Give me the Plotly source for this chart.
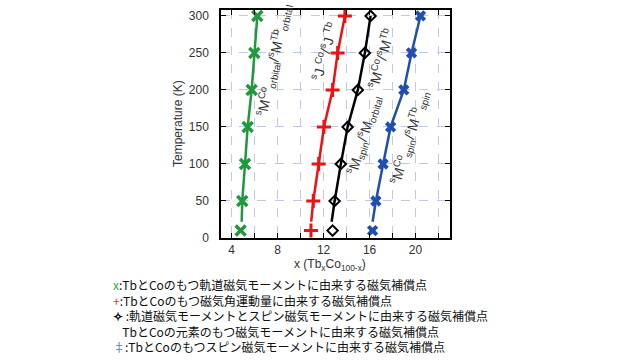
import plotly.graph_objects as go

temps = [10, 50, 100, 150, 200, 250, 300]
x_orbital = [4.78, 4.92, 5.16, 5.39, 5.74, 5.97, 6.23]
x_angular = [10.9, 11.1, 11.57, 12.03, 12.78, 13.22, 13.85]
x_element = [12.78, 12.96, 13.5, 14.09, 14.98, 15.59, 16.09]
x_spin = [16.26, 16.55, 17.18, 17.83, 18.98, 19.65, 20.43]

# fitted line ends (lower end of each drawn line)
line_low_T = 22
line_low_x = [4.87, 10.92, 12.7, 16.26]

x_ticks = [4, 8, 12, 16, 20]
y_ticks = [0, 50, 100, 150, 200, 250, 300]

legend_lines = [
    ("x", "#3aaa4a", ":TbとCoのもつ軌道磁気モーメントに由来する磁気補償点"),
    ("+", "#ff2a2a", ":TbとCoのもつ磁気角運動量に由来する磁気補償点"),
    ("<b>✧</b>", "#000000", " :軌道磁気モーメントとスピン磁気モーメントに由来する磁気補償点"),
    ("x:", "#ffffff", "TbとCoの元素のもつ磁気モーメントに由来する磁気補償点"),
    ("‡", "#3f8fe8", ":TbとCoのもつスピン磁気モーメントに由来する磁気補償点"),
]

series = [
    (x_orbital, "#1e9a3c", "x-thin-open", 10, 3.5),
    (x_angular, "#ee1111", "cross-thin-open", 10, 3),
    (x_element, "#000000", "diamond-open", 8, 2),
    (x_spin, "#1f4fb0", "x", 10, 0),
]

fig = go.Figure()
for i, (xs, col, sym, size, lw) in enumerate(series):
    fig.add_trace(go.Scatter(
        x=[line_low_x[i]] + xs[1:], y=[line_low_T] + temps[1:],
        mode="lines", line=dict(color=col, width=2.5), showlegend=False))
    fig.add_trace(go.Scatter(
        x=xs, y=temps, mode="markers",
        marker=dict(symbol=sym, size=size, color=col,
                    line=dict(color=col, width=lw)),
        showlegend=False))

ann_font = dict(family="Liberation Sans, Arial", size=14, color="#333333")
labels = [
    (7.68, 240, "<sup>s</sup>M<sup>Co</sup><sub>orbital</sub>/<sup>s</sup>M<sup>Tb</sup><sub>orbital</sub>", -78),
    (12.1, 252, "<sup>s</sup>J <sup>Co</sup>/<sup>s</sup>J <sup>Tb</sup>", -74),
    (16.98, 243, "<sup>s</sup>M<sup>Co</sup>/<sup>s</sup>M<sup>Tb</sup>", -74),
    (15.5, 139, "<sup>s</sup>M<sub>spin</sub>/<sup>s</sup>M<sub>orbital</sub>", -73),
    (19.5, 136, "<sup>s</sup>M<sup>Co</sup><sub>spin</sub>/<sup>s</sup>M<sup>Tb</sup><sub>spin</sub>", -73),
]
for x, y, t, ang in labels:
    fig.add_annotation(x=x, y=y, text=t, textangle=ang, showarrow=False,
                       font=ann_font, xanchor="center", yanchor="middle")

# legend text below the chart (one multi-line text block)
L, W, B, H = 221, 229, 238, 228
rows = []
for sym, col, txt in legend_lines:
    rows.append(f'<span style="color:{col}">{sym}</span>{txt}')
fig.add_annotation(xref="paper", yref="paper",
                   x=(111 - L) / W, y=(B - 274) / H, text="<br>".join(rows),
                   showarrow=False, xanchor="left", yanchor="top", align="left",
                   font=dict(family="Noto Sans CJK JP", size=12, color="#111111"))

axis_common = dict(showline=True, linecolor="#000", linewidth=1.5, mirror="ticks",
                   ticks="inside", ticklen=5, tickcolor="#000",
                   gridcolor="#c2c8e8", griddash="dash", gridwidth=1,
                   zeroline=False, automargin=False,
                   tickfont=dict(family="Liberation Sans, Arial", size=12, color="#333"))

fig.update_xaxes(range=[3.07, 23.0], tickvals=x_ticks,
                 minor=dict(dtick=2, tick0=0, ticks="inside", ticklen=5,
                            showgrid=True, gridcolor="#c2c8e8", griddash="dash"),
                 **axis_common)
fig.update_yaxes(range=[0, 308], tickvals=y_ticks, ticklabelstandoff=8,
                 **axis_common)

title_font = dict(family="Liberation Sans, Arial", size=12, color="#333")
fig.add_annotation(xref="paper", yref="paper", x=(178 - L) / W, y=0.5,
                   text="Temperature (K)", textangle=-90, showarrow=False,
                   font=title_font, xanchor="center", yanchor="middle")
fig.add_annotation(xref="paper", yref="paper", x=(330 - L) / W, y=(B - 265) / H,
                   text="x (Tb<sub>x</sub>Co<sub>100-x</sub>)", showarrow=False,
                   font=title_font, xanchor="center", yanchor="middle")

fig.update_layout(width=640, height=360, margin=dict(l=221, r=190, t=10, b=122),
                  plot_bgcolor="white", paper_bgcolor="white", showlegend=False)

fig.write_html("out.html", config={"displayModeBar": False},
               post_script="document.body.style.margin='0';")
